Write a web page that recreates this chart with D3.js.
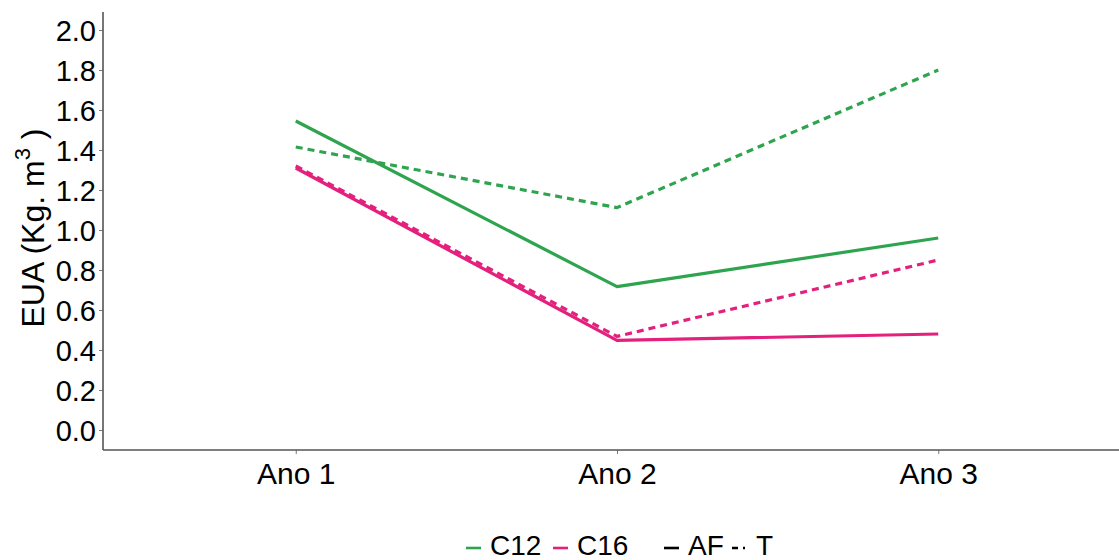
<!DOCTYPE html>
<html>
<head>
<meta charset="utf-8">
<script src="https://cdn.jsdelivr.net/npm/d3@7"></script>
<style>
  html, body { margin: 0; padding: 0; background: #fff; }
  svg { display: block; font-family: "Liberation Sans", Arial, sans-serif; }
</style>
</head>
<body>
<svg id="chart" width="1119" height="560"></svg>
<script>
// ---- data ----
const years = ["Ano 1", "Ano 2", "Ano 3"];
const c12_AF = [1.545, 0.717, 0.96];
const c12_T  = [1.415, 1.112, 1.80];
const c16_AF = [1.31, 0.448, 0.48];
const c16_T  = [1.32, 0.468, 0.85];
const yTicks = [0.0, 0.2, 0.4, 0.6, 0.8, 1.0, 1.2, 1.4, 1.6, 1.8, 2.0];
const cultivars = ["C12", "C16"];
const systems = ["AF", "T"];

const series = [
  { cultivar: "C12", system: "AF", values: c12_AF },
  { cultivar: "C12", system: "T",  values: c12_T },
  { cultivar: "C16", system: "AF", values: c16_AF },
  { cultivar: "C16", system: "T",  values: c16_T }
];

(function () {
// ---- styles ----
const colour = d3.scaleOrdinal().domain(cultivars).range(["#2ea44f", "#e4207d"]);
const dash = d3.scaleOrdinal().domain(systems).range([null, "7,5"]);

const svg = d3.select("#chart");
const pLeft = 103, pRight = 1119, pTop = 12, pBottom = 450;

const x = d3.scalePoint().domain(years).range([pLeft, 1131]).padding(0.6);
const y = d3.scaleLinear().domain([-0.1, 2.09]).range([pBottom, pTop]);

// axes
const yAxis = svg.append("g").attr("transform", `translate(${pLeft},0)`)
  .call(d3.axisLeft(y).tickValues(yTicks).tickFormat(d3.format(".1f")).tickSizeInner(4).tickSizeOuter(0).tickPadding(3));
const xAxis = svg.append("g").attr("transform", `translate(0,${pBottom})`)
  .call(d3.axisBottom(x).tickSizeInner(4).tickSizeOuter(0).tickPadding(9));

[yAxis, xAxis].forEach(g => {
  g.select(".domain").remove();
  g.selectAll(".tick line").attr("stroke", "#777").attr("stroke-width", 1);
  g.selectAll(".tick text").attr("fill", "#000").attr("font-family", "Liberation Sans, Arial, sans-serif");
});
yAxis.selectAll(".tick text").attr("font-size", 29).attr("dy", "0.36em");
xAxis.selectAll(".tick text").attr("font-size", 30).attr("dy", 21);

svg.append("line").attr("x1", pLeft).attr("x2", pLeft).attr("y1", pTop).attr("y2", pBottom)
  .attr("stroke", "#555").attr("stroke-width", 1.6);
svg.append("line").attr("x1", pLeft).attr("x2", pRight).attr("y1", pBottom).attr("y2", pBottom)
  .attr("stroke", "#555").attr("stroke-width", 1.6);

// axis title
const title = svg.append("text")
  .attr("transform", `translate(44,${(pTop + pBottom) / 2 - 3}) rotate(-90)`)
  .attr("text-anchor", "middle").attr("font-size", 32).attr("fill", "#000");
title.append("tspan").text("EUA (Kg. m");
title.append("tspan").text("3").attr("font-size", 22).attr("dy", -14);
title.append("tspan").text(" )").attr("dy", 14);

// lines
const line = d3.line().x((d, i) => x(years[i])).y(d => y(d));
svg.append("g").selectAll("path").data(series).join("path")
  .attr("d", d => line(d.values))
  .attr("fill", "none")
  .attr("stroke", d => colour(d.cultivar))
  .attr("stroke-width", 3.2)
  .attr("stroke-dasharray", d => dash(d.system))
  .attr("stroke-linejoin", "round");

// legend
const legend = svg.append("g").attr("font-size", 28).attr("fill", "#000");
const keyY = 548, textY = 555;
const items = [
  { label: "C12", x: 466, stroke: colour("C12"), dash: null },
  { label: "C16", x: 553, stroke: colour("C16"), dash: null },
  { label: "AF", x: 664, stroke: "#000", dash: null },
  { label: "T", x: 732, stroke: "#000", dash: "6,5,2,5" }
];
items.forEach(it => {
  legend.append("line").attr("x1", it.x).attr("x2", it.x + 15).attr("y1", keyY).attr("y2", keyY)
    .attr("stroke", it.stroke).attr("stroke-width", 2.6).attr("stroke-dasharray", it.dash);
  legend.append("text").attr("x", it.x + 24).attr("y", textY).text(it.label);
});
})();
</script>
</body>
</html>
